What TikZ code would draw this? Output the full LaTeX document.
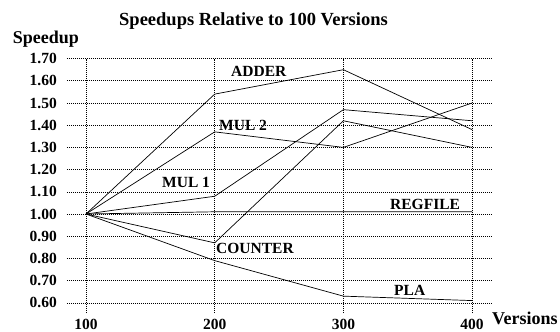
\documentclass[tikz,border=0pt]{standalone}
\usepackage{fontspec}
\setmainfont{Liberation Serif}
\begin{document}
\begin{tikzpicture}[x=1pt,y=-1pt,
  gridline/.style={line width=0.6pt, dash pattern=on 1pt off 1pt},
  dataline/.style={line width=0.7pt, line join=miter},
  lab/.style={font=\fontsize{15.5}{16}\selectfont\bfseries, inner sep=0pt, anchor=base west},
  ticklab/.style={font=\fontsize{15.5}{16}\selectfont\bfseries, inner sep=0pt},
  big/.style={font=\fontsize{18}{20}\selectfont\bfseries, inner sep=0pt, anchor=base west}]
\useasboundingbox (0,0) rectangle (560,332);
\begin{scope}[x=1.287pt, y=222pt, xshift=-42.7pt, yshift=-436pt]
  % grid
  \foreach \v in {0.6,0.7,0.8,0.9,1.0,1.1,1.2,1.3,1.4,1.5,1.6,1.7}
    \draw[gridline] (85.2,\v) -- (414.7,\v);
  \foreach \n in {100,200,300,400}
    \draw[gridline] (\n,0.554) -- (\n,1.7);
  % y tick labels
  \foreach \v/\t [count=\i] in {1.7/1.70,1.6/1.60,1.5/1.50,1.4/1.40,1.3/1.30,1.2/1.20,1.1/1.10,1.0/1.00,0.9/0.90,0.8/0.80,0.7/0.70,0.6/0.60}
    \node[ticklab, anchor=east] (yt\i) at (77.5,\v) {\t};
  % x tick labels
  \foreach \n [count=\i] in {100,200,300,400}
    \node[ticklab, anchor=base] (xt\i) at (\n,0.4775) {\n};
  % data points
  \coordinate (o) at (100,1.00);
  \coordinate (ad2) at (200,1.54); \coordinate (ad3) at (300,1.65); \coordinate (ad4) at (400,1.38);
  \coordinate (mb2) at (200,1.37); \coordinate (mb3) at (300,1.30); \coordinate (mb4) at (400,1.50);
  \coordinate (ma2) at (200,1.08); \coordinate (ma3) at (300,1.47); \coordinate (ma4) at (400,1.42);
  \coordinate (co2) at (200,0.87); \coordinate (co3) at (300,1.42); \coordinate (co4) at (400,1.30);
  \coordinate (rg2) at (200,1.01); \coordinate (rg3) at (300,1.01); \coordinate (rg4) at (400,1.01);
  \coordinate (pl2) at (200,0.79); \coordinate (pl3) at (300,0.63); \coordinate (pl4) at (400,0.61);
  \draw[dataline] (o) -- (ad2) -- (ad3) -- (ad4);
  \draw[dataline] (o) -- (mb2) -- (mb3) -- (mb4);
  \draw[dataline] (o) -- (ma2) -- (ma3) -- (ma4);
  \draw[dataline] (o) -- (co2) -- (co3) -- (co4);
  \draw[dataline] (o) -- (rg2) -- (rg3) -- (rg4);
  \draw[dataline] (o) -- (pl2) -- (pl3) -- (pl4);
\end{scope}
% titles
\node[big, font=\fontsize{18.5}{20}\selectfont\bfseries] (title) at (119,25.7) {Speedups Relative to 100 Versions};
\node[big] (ylab) at (12.7,43.3) {Speedup};
\node[big] (xlab) at (492,324) {Versions};
% series labels
\node[lab] (ladder) at (231,76) {ADDER};
\node[lab] (lmul2) at (219,130) {MUL 2};
\node[lab] (lmul1) at (162,187) {MUL 1};
\node[lab] (lcount) at (216,253) {COUNTER};
\node[lab] (lreg) at (390,209) {REGFILE};
\node[lab] (lpla) at (394,295) {PLA};
\end{tikzpicture}
\end{document}
